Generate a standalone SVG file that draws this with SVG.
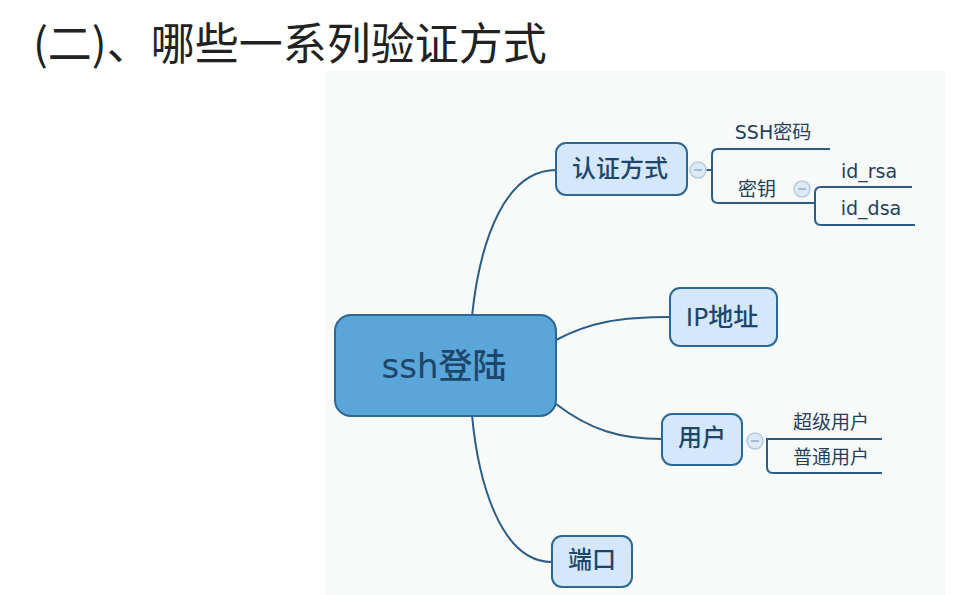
<svg xmlns="http://www.w3.org/2000/svg" width="963" height="595" viewBox="0 0 963 595">
<style>
.title{font-family:"Noto Sans CJK SC","Noto Sans",sans-serif;font-size:44px;fill:#222}
.node{fill:#d5e7fb;stroke:#2c6893;stroke-width:2}
.ntext{font-family:"DejaVu Sans","Noto Sans CJK SC",sans-serif;font-weight:500;fill:#1c466b;text-anchor:middle;dominant-baseline:central}
.leaf{font-family:"DejaVu Sans","Noto Sans CJK SC",sans-serif;font-size:19px;fill:#243f5a;text-anchor:middle;dominant-baseline:central}
.conn{fill:none;stroke:#2c5d84;stroke-width:2}
.tog circle{fill:#dde9f5;stroke:#b3cbe2;stroke-width:1.5}
.tog line{stroke:#8fadc8;stroke-width:1.5}
</style>
<rect width="963" height="595" fill="#ffffff"/>
<rect x="325" y="71" width="620" height="524" fill="#f8fafa"/>
<text class="title" x="33" y="60">(二)、哪些一系列验证方式</text>

<g id="connectors">
<path class="conn" d="M472 316 C480 240 505 170 556 170"/>
<path class="conn" d="M556 340 C590 322 620 317 670 317"/>
<path class="conn" d="M556 404 C590 430 620 439 662 439"/>
<path class="conn" d="M472 415 C478 480 500 562 552 562"/>
<path class="conn" d="M705 170 L712 170"/>
<path class="conn" d="M830 149 L718 149 Q712 149 712 155 L712 197 Q712 203 718 203 L815 203"/>
<path class="conn" d="M912 187 L821 187 Q815 187 815 193 L815 219 Q815 225 821 225 L915 225"/>
<path class="conn" d="M882 439 L767 439 L767 467 Q767 473 773 473 L882 473"/>
</g>

<g id="n-ssh">
<rect x="335" y="315" width="221" height="101" rx="16" fill="#5ba6d9" stroke="#2c6893" stroke-width="2"/>
<text class="ntext" x="444" y="366" font-size="34">ssh登陆</text>
</g>

<g id="n-auth">
<rect class="node" x="556" y="143" width="131" height="52" rx="10"/>
<text class="ntext" x="620" y="169" font-size="24">认证方式</text>
</g>
<g id="t-auth" class="tog"><circle cx="698" cy="170" r="8"/><line x1="694" y1="170" x2="702" y2="170"/></g>

<g id="l-sshpwd"><text class="leaf" x="773" y="132">SSH密码</text></g>
<g id="l-key"><text class="leaf" x="757" y="189">密钥</text></g>
<g id="t-key" class="tog"><circle cx="802" cy="189" r="8"/><line x1="798" y1="189" x2="806" y2="189"/></g>
<g id="l-idrsa"><text class="leaf" x="869" y="171">id_rsa</text></g>
<g id="l-iddsa"><text class="leaf" x="871" y="208">id_dsa</text></g>

<g id="n-ip">
<rect class="node" x="670" y="288" width="107" height="58" rx="10"/>
<text class="ntext" x="722" y="317" font-size="25">IP地址</text>
</g>

<g id="n-user">
<rect class="node" x="662" y="414" width="80" height="51" rx="10"/>
<text class="ntext" x="702" y="438" font-size="24">用户</text>
</g>
<g id="t-user" class="tog"><circle cx="755" cy="441" r="8"/><line x1="751" y1="441" x2="759" y2="441"/></g>
<g id="l-super"><text class="leaf" x="831" y="422">超级用户</text></g>
<g id="l-normal"><text class="leaf" x="831" y="457">普通用户</text></g>

<g id="n-port">
<rect class="node" x="552" y="536" width="80" height="51" rx="10"/>
<text class="ntext" x="592" y="560" font-size="24">端口</text>
</g>
</svg>
